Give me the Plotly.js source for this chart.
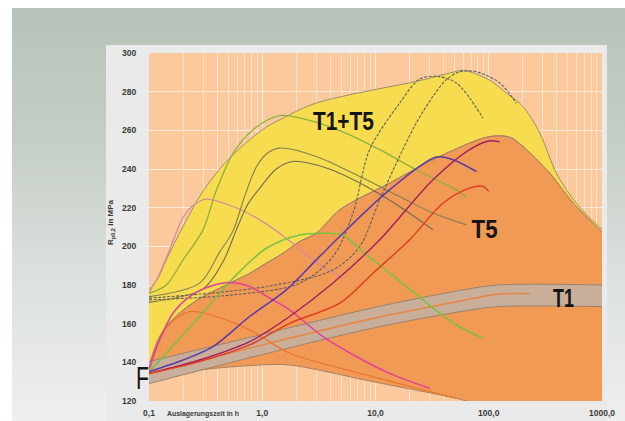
<!DOCTYPE html>
<html>
<head>
<meta charset="utf-8">
<script src="https://cdn.plot.ly/plotly-3.0.1.min.js"></script>
<style>
  html, body { margin:0; padding:0; }
  body { width:625px; height:421px; position:relative; overflow:hidden; background:#ffffff; }
  #bg { position:absolute; left:12px; top:8px; right:0; bottom:0;
        background: linear-gradient(to bottom, #b7c3b9 0%, #c3cdc5 30%, #dce1dd 65%, #eef0ee 100%); }
  #panel { position:absolute; left:106px; top:45px; width:501px; height:376px; background:#e9eae9; }
  #chart { position:absolute; left:0; top:0; width:625px; height:421px; }
</style>
</head>
<body>
<div id="bg"></div>
<div id="panel"></div>
<div id="chart"></div>
<script>
// ---- axis ticks ----
const xTickVals = [0.1, 1, 10, 100, 1000];
const xTickText = ["0,1", "1,0", "10,0", "100,0", "1000,0"];
const yTickVals = [120, 140, 160, 180, 200, 220, 240, 260, 280, 300];

// ---- T1+T5 envelope (yellow area, upper boundary) ----
const envX = [0.1, 0.12, 0.142, 0.2, 0.28, 0.393, 0.552, 0.774, 1.087, 1.525, 2.14, 3.0, 5.91, 11.65, 22.9, 45.2, 60, 100, 143, 200, 282, 395, 555, 728, 1000];
const envY = [177.5, 183.5, 193, 210.3, 225.8, 237.9, 247.4, 255.1, 261.7, 266.3, 270.7, 274.1, 278.4, 281.9, 285.3, 289.6, 291, 286.2, 279.3, 272.4, 258.6, 237.9, 224.5, 216.5, 208.8];

// ---- T5 area (orange) ----
const t5TopX = [0.1, 0.12, 0.142, 0.2, 0.28, 0.393, 0.552, 0.774, 1.087, 1.525, 2.14, 3.0, 4.83, 13.3, 36.9, 100, 153, 200, 345, 555, 1000];
const t5TopY = [138, 151.6, 158.5, 167, 173, 177.5, 181.8, 186, 191.3, 196.4, 202.5, 206.8, 218.9, 232.7, 246.5, 256.7, 256.5, 251.7, 237.9, 222.5, 207.5];
const t5BotX = [0.1, 0.28, 0.95, 1.75, 9.5, 51.8, 70, 1000];
const t5BotY = [131, 136, 138.6, 138.6, 130, 121.4, 119.5, 119.5];

// ---- T1 band ----
const t1X = [0.1, 1, 10, 60, 120, 1000];
const t1Top = [140.4, 154.5, 168.5, 177.5, 180, 180];
const t1Bot = [129, 144, 158, 166.5, 168.8, 168.8];
const t1MidX = [0.1, 1, 10, 60, 120, 230];
const t1MidY = [134, 149, 163, 172, 175.3, 175.5];

// ---- T1+T5 curves ----
const aX = [0.1, 0.12, 0.142, 0.174, 0.2, 0.25, 0.321, 0.552, 0.949, 1.63, 2.81, 5.16];
const aY = [176, 184, 194, 207, 215, 221.5, 224.4, 220.6, 213.7, 204.2, 193, 183.5];
const bX = [0.1, 0.142, 0.2, 0.3, 0.393, 0.552, 0.829, 1.425, 2.81, 5.91, 11.65, 22.9, 45.2, 63.4];
const bY = [175.7, 180, 193, 208.5, 229, 248, 260.3, 267.6, 264.6, 257.7, 249.1, 239.6, 231, 225.8];
const cX = [0.1, 0.28, 0.42, 0.552, 0.7, 0.886, 1.1, 1.425, 3.0, 7.25, 16.3, 32.2, 63.4];
const cY = [174, 181, 197, 208, 226, 241, 248, 250.8, 246.5, 236.1, 225.8, 217.2, 211.1];
const dX = [0.1, 0.3, 0.45, 0.59, 0.75, 0.949, 1.33, 1.87, 3.68, 8.3, 16.3, 32.2];
const dY = [171, 178, 192, 208.5, 222, 230, 240, 243.9, 240.5, 231, 220.6, 208.5];
const eX = [0.1, 0.552, 2.14, 4.21, 6.33, 8.88, 16.3, 24.5, 34.4, 51.8, 89];
const eY = [172.3, 174.9, 180.9, 194.7, 217.2, 250, 274, 286.5, 287.9, 284.5, 266.3];
const fX = [0.1, 1.087, 4.21, 7.25, 10.9, 15.3, 22.9, 32.2, 42.2, 55.3, 77.6, 125, 175];
const fY = [173.2, 179.2, 187.8, 199.9, 224.1, 243.1, 263.8, 277.6, 286.2, 290.3, 290.3, 284.5, 274.1];

// ---- T5 curves ----
const gX = [0.1, 0.142, 0.28, 0.552, 1.087, 2.14, 3.44, 5.16, 6.78, 13.3, 26.3, 36.9, 51.8, 89];
const gY = [135.2, 144.7, 163.7, 183.5, 199, 205.9, 206.8, 205.9, 200, 186.1, 172.3, 165.4, 159.3, 152.4];
const hX = [0.1, 0.124, 0.163, 0.2286, 0.343, 0.516, 0.774, 1.163, 1.746, 3.44, 6.78, 13.3, 30.1];
const hY = [136.9, 151.6, 165.4, 174, 179.2, 181.3, 179.2, 173.2, 167.1, 153.3, 143, 134.3, 126.6];
const iX = [0.1, 0.142, 0.2286, 0.393, 0.774, 1.746, 4.21, 9.5, 26.3, 51.8];
const iY = [134.5, 158, 166.2, 163.7, 156.8, 144.7, 138, 132.6, 125.7, 121.4];
const jX = [0.1, 0.2, 0.367, 0.774, 1.63, 3.0, 4.83, 13.3, 34.4, 48.3, 77.6];
const jY = [135.2, 141.2, 148.1, 163.7, 177.5, 193, 205.1, 229.2, 246.2, 244.8, 238.7];
const kX = [0.1, 0.28, 0.774, 1.746, 4.21, 10.9, 32.2, 67.8, 100, 125];
const kY = [134.3, 141.2, 150.7, 163.7, 181, 203.4, 234.4, 250, 254.5, 254];
const lX = [0.1, 0.28, 0.774, 1.746, 4.83, 9.5, 20, 39.4, 67.8, 89, 100];
const lY = [134.3, 140.4, 149, 160.2, 170.6, 186.1, 203.4, 222.3, 230.1, 231, 228.4];

const FONT = "Liberation Sans, Arial, sans-serif";

function ln(x, y, color, width, dash) {
  return { x: x, y: y, type: 'scatter', mode: 'lines', hoverinfo: 'skip', showlegend: false,
           line: { color: color, width: width || 1.3, shape: 'spline', smoothing: 0.9, dash: dash || 'solid' } };
}

const traces = [];
traces.push(ln(t5BotX, t5BotY, '#a88066', 1));
const t5top = ln(t5TopX, t5TopY, '#a88066', 1);
t5top.fill = 'tonexty'; t5top.fillcolor = '#f19a56';
traces.push(t5top);
const env = ln(envX, envY, '#9c8d6c', 1);
env.fill = 'tonexty'; env.fillcolor = '#f8dc50';
traces.push(env);
traces.push(ln(t5TopX, t5TopY, '#a88066', 1));
traces.push(ln(t1X, t1Bot, '#98826e', 1));
const t1t = ln(t1X, t1Top, '#98826e', 1);
t1t.fill = 'tonexty'; t1t.fillcolor = '#c9ae99';
traces.push(t1t);
traces.push(ln(t1MidX, t1MidY, '#e6874a', 1.6));
traces.push(ln(aX, aY, '#d98b9c', 1.3));
traces.push(ln(bX, bY, '#8db03c', 1.3));
traces.push(ln(cX, cY, '#7f7f52', 1.1));
traces.push(ln(dX, dY, '#6e6a50', 1.1));
traces.push(ln(eX, eY, '#5e5e5e', 1.1, '3px,1.5px'));
traces.push(ln(fX, fY, '#5e5e5e', 1.1, '3px,1.5px'));
traces.push(ln(iX, iY, '#e9782e', 1.3));
traces.push(ln(gX, gY, '#7cc144', 1.6));
traces.push(ln(hX, hY, '#df4298', 1.5));
traces.push(ln(jX, jY, '#5b3aa8', 1.5));
traces.push(ln(kX, kY, '#a3205e', 1.4));
traces.push(ln(lX, lY, '#e23b1e', 1.4));

const px = (p) => (p - 149) / 453;
const py = (p) => (401 - p) / 348;

function ann(xp, yp, text, size, weight, extra) {
  return Object.assign({ xref: 'paper', yref: 'paper', x: px(xp), y: py(yp), text: text,
    showarrow: false, xanchor: 'center', yanchor: 'middle',
    font: { family: FONT, size: size, color: '#141414', weight: weight } }, extra || {});
}

const layout = {
  width: 625, height: 421,
  margin: { l: 149, r: 23, t: 53, b: 20, pad: 0 },
  paper_bgcolor: 'rgba(0,0,0,0)',
  plot_bgcolor: '#fbc99b',
  showlegend: false,
  xaxis: {
    type: 'log', range: [-1, 3], tickvals: xTickVals, ticktext: xTickText,
    showgrid: true, gridcolor: 'rgba(255,240,228,0.95)', gridwidth: 1.2,
    minor: { dtick: 'D1', showgrid: true, gridcolor: 'rgba(255,232,212,0.8)', gridwidth: 1 },
    zeroline: false, showline: false, ticks: 'outside', ticklen: 4, tickcolor: 'rgba(0,0,0,0)',
    tickfont: { family: FONT, size: 8.5, color: '#3a3a3a', weight: 'bold' }, fixedrange: true
  },
  yaxis: {
    range: [120, 300], tickvals: yTickVals,
    showgrid: true, gridcolor: 'rgba(255,236,220,0.95)', gridwidth: 1,
    zeroline: false, showline: false, ticks: 'outside', ticklen: 10, tickcolor: 'rgba(0,0,0,0)',
    tickfont: { family: FONT, size: 8.5, color: '#3a3a3a', weight: 'bold' }, fixedrange: true
  },
  annotations: [
    ann(343, 121, 'T1+T5', 25, 'bold'),
    ann(484, 228.5, 'T5', 25, 'bold'),
    ann(563, 298, 'T1', 25, 'bold'),
    ann(142, 378, 'F', 31, 'normal'),
    ann(203, 413, 'Auslagerungszeit in h', 7.5, 'bold', { font: { family: FONT, size: 7.5, color: '#3a3a3a', weight: 'bold' } }),
    ann(111, 222, 'R<sub>p0,2</sub> in MPa', 8, 'bold', { textangle: -90, font: { family: FONT, size: 8, color: '#3a3a3a', weight: 'bold' } })
  ]
};

// condensed widths matching the reference lettering
const textWidths = { 'T1+T5': 61, 'T5': 26, 'T1': 21, 'F': 13, 'Auslagerungszeit in h': 72 };

Plotly.newPlot('chart', traces, layout, { staticPlot: true, displayModeBar: false }).then(function () {
  document.querySelectorAll('#chart .annotation-text').forEach(function (el) {
    const t = el.textContent;
    if (textWidths[t]) {
      el.setAttribute('textLength', textWidths[t]);
      el.setAttribute('lengthAdjust', 'spacingAndGlyphs');
    }
  });
});
</script>
</body>
</html>
